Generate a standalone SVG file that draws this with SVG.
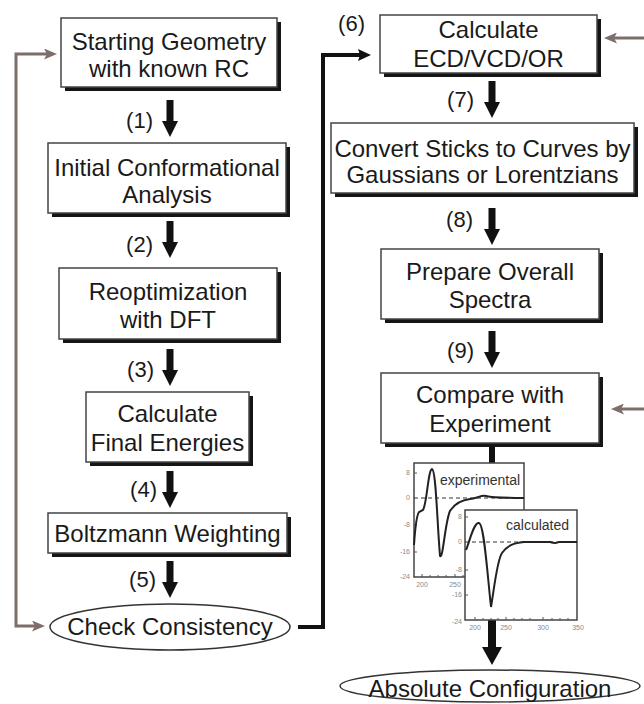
<svg xmlns="http://www.w3.org/2000/svg" xmlns:xlink="http://www.w3.org/1999/xlink" width="644" height="704" viewBox="0 0 644 704">
<style>
.sh{fill:#151515}
.bx{fill:#fff;stroke:#444;stroke-width:1.5}
.t{font-family:"Liberation Sans",Arial,sans-serif;font-size:24px;fill:#1a1a1a;text-anchor:middle}
.lb{font-family:"Liberation Sans",Arial,sans-serif;font-size:22px;fill:#1a1a1a;text-anchor:end}
.da{fill:#111}
.fb{fill:none;stroke:#7d6e6a;stroke-width:3}
.bk{fill:none;stroke:#111;stroke-width:4}
.ch{fill:#fff;stroke:#444;stroke-width:1.5}
.zl{stroke:#333;stroke-width:1.2;stroke-dasharray:4 3;fill:none}
.tk{stroke:#555;stroke-width:1;fill:none}
.cv{fill:none;stroke:#222;stroke-width:2}
.ax{font-family:"Liberation Sans",Arial,sans-serif;font-size:7px;fill:#8a8a8a}
.ct{font-family:"Liberation Sans",Arial,sans-serif;font-size:14px;fill:#333}
</style>
<defs>
<marker id="mb" viewBox="0 0 13 11" refX="4" refY="5.5" markerWidth="13" markerHeight="11" markerUnits="userSpaceOnUse" orient="auto-start-reverse">
<path d="M0,0 L13,5.5 L0,11 L3,5.5 z" fill="#7d6e6a"/>
</marker>
<marker id="mk" viewBox="0 0 13 12" refX="4" refY="6" markerWidth="13" markerHeight="12" markerUnits="userSpaceOnUse" orient="auto">
<path d="M0,0 L13,6 L0,12 L2,6 z" fill="#111"/>
</marker>
<polygon id="da" points="-3.5,0 3.5,0 3.5,21 8,21 0,37 -8,21 -3.5,21"/>
</defs>
<rect width="644" height="704" fill="#fff"/>

<g id="connectors">
<path class="fb" d="M36,626 H16 V54 H48" marker-start="url(#mb)" marker-end="url(#mb)"/>
<path class="fb" d="M644,38 H613" marker-end="url(#mb)"/>
<path class="fb" d="M644,409 H620" marker-end="url(#mb)"/>
<path class="bk" d="M298,627 H323 V55 H362" marker-end="url(#mk)"/>
<g class="da">
<use xlink:href="#da" x="170" y="100"/>
<use xlink:href="#da" x="170" y="221"/>
<use xlink:href="#da" x="170" y="349"/>
<use xlink:href="#da" x="170" y="471"/>
<use xlink:href="#da" x="170" y="561"/>
<use xlink:href="#da" x="492" y="81"/>
<use xlink:href="#da" x="492" y="208"/>
<use xlink:href="#da" x="492" y="331"/>
<rect x="489" y="445" width="6" height="19"/>
<polygon points="488,620 496,620 496,647 502,647 492,665 482,647 488,647"/>
</g>
<text class="lb" x="153" y="128">(1)</text>
<text class="lb" x="153" y="252">(2)</text>
<text class="lb" x="154" y="377">(3)</text>
<text class="lb" x="157" y="497">(4)</text>
<text class="lb" x="156" y="587">(5)</text>
<text class="lb" x="365" y="31">(6)</text>
<text class="lb" x="474" y="107">(7)</text>
<text class="lb" x="473" y="227">(8)</text>
<text class="lb" x="474" y="358">(9)</text>
</g>

<g id="n1">
<rect class="sh" x="65" y="22" width="216" height="69"/>
<rect class="bx" x="61" y="18" width="216" height="69"/>
<text class="t" x="169" y="50">Starting Geometry</text>
<text class="t" x="169" y="77">with known RC</text>
</g>
<g id="n2">
<rect class="sh" x="52" y="147" width="238" height="70"/>
<rect class="bx" x="48" y="143" width="238" height="70"/>
<text class="t" x="167" y="176">Initial Conformational</text>
<text class="t" x="167" y="203">Analysis</text>
</g>
<g id="n3">
<rect class="sh" x="63" y="272" width="218" height="71"/>
<rect class="bx" x="59" y="268" width="218" height="71"/>
<text class="t" x="168" y="300">Reoptimization</text>
<text class="t" x="168" y="328">with DFT</text>
</g>
<g id="n4">
<rect class="sh" x="90" y="396" width="163" height="70"/>
<rect class="bx" x="86" y="392" width="163" height="70"/>
<text class="t" x="167.5" y="422">Calculate</text>
<text class="t" x="167.5" y="451">Final Energies</text>
</g>
<g id="n5">
<rect class="sh" x="52" y="517" width="239" height="40"/>
<rect class="bx" x="48" y="513" width="239" height="40"/>
<text class="t" x="167.5" y="542">Boltzmann Weighting</text>
</g>
<g id="n6">
<ellipse cx="170" cy="627" rx="120" ry="23" fill="#fff" stroke="#333" stroke-width="1.5"/>
<text class="t" x="170" y="635">Check Consistency</text>
</g>
<g id="n7">
<rect class="sh" x="384" y="19" width="217" height="58"/>
<rect class="bx" x="380" y="15" width="217" height="58"/>
<text class="t" x="488.5" y="38">Calculate</text>
<text class="t" x="488.5" y="67">ECD/VCD/OR</text>
</g>
<g id="n8">
<rect class="sh" x="335" y="127" width="303" height="70"/>
<rect class="bx" x="331" y="123" width="303" height="70"/>
<text class="t" x="482.5" y="157">Convert Sticks to Curves by</text>
<text class="t" x="482.5" y="183">Gaussians or Lorentzians</text>
</g>
<g id="n9">
<rect class="sh" x="385" y="253" width="218" height="70"/>
<rect class="bx" x="381" y="249" width="218" height="70"/>
<text class="t" x="490" y="280">Prepare Overall</text>
<text class="t" x="490" y="308">Spectra</text>
</g>
<g id="n10">
<rect class="sh" x="385" y="377" width="218" height="70"/>
<rect class="bx" x="381" y="373" width="218" height="70"/>
<text class="t" x="490" y="403">Compare with</text>
<text class="t" x="490" y="432">Experiment</text>
</g>

<g id="chart-experimental">
<rect class="ch" x="414" y="463" width="110" height="114"/>
<path class="tk" d="M422,577 v-3 M430,577 v-2 M438,577 v-2 M446,577 v-2 M455,577 v-3 M463,577 v-2 M414,473 h3 M414,525 h3 M414,552 h3"/>
<line class="zl" x1="414" y1="498" x2="524" y2="498"/>
<path class="cv" d="M414,545 C415,530 416,516 419,512 L423,510 C427,504 428,470 432,469 C436,470 437,520 440,556 C443,560 445,522 450,511 C455,503 462,500 470,499 C477,498 482,495 486,496 C490,497 495,498 524,498"/>
<text class="ct" x="440" y="485">experimental</text>
<g class="ax" text-anchor="end">
<text x="410" y="475">8</text>
<text x="410" y="500">0</text>
<text x="410" y="527">-8</text>
<text x="410" y="554">-16</text>
<text x="410" y="579">-24</text>
</g>
<g class="ax" text-anchor="middle">
<text x="422" y="587">200</text>
<text x="455" y="587">250</text>
</g>
</g>
<g id="chart-calculated">
<rect class="ch" x="465" y="510" width="112" height="110"/>
<path class="tk" d="M475,620 v-3 M483,620 v-2 M491,620 v-2 M498,620 v-2 M506,620 v-3 M514,620 v-2 M522,620 v-2 M530,620 v-2 M543,620 v-3 M552,620 v-2 M560,620 v-2 M568,620 v-2 M465,517 h3 M465,570 h3 M465,595 h3"/>
<line class="zl" x1="465" y1="542" x2="577" y2="542"/>
<path class="cv" d="M466,550 C470,540 474,522 479,523 C484,524 487,570 491,607 C494,590 497,560 502,553 C508,545 514,543 524,542 L550,542 C553,543 556,544 559,542 L577,542"/>
<text class="ct" x="506" y="530">calculated</text>
<g class="ax" text-anchor="end">
<text x="462" y="519">8</text>
<text x="462" y="544">0</text>
<text x="462" y="572">-8</text>
<text x="462" y="597">-16</text>
<text x="462" y="624">-24</text>
</g>
<g class="ax" text-anchor="middle">
<text x="475" y="630">200</text>
<text x="506" y="630">250</text>
<text x="543" y="630">300</text>
<text x="578" y="630">350</text>
</g>
</g>

<g id="n11">
<ellipse cx="490" cy="686" rx="150" ry="16" fill="#fff" stroke="#333" stroke-width="1.5"/>
<text class="t" x="490" y="697">Absolute Configuration</text>
</g>
</svg>
